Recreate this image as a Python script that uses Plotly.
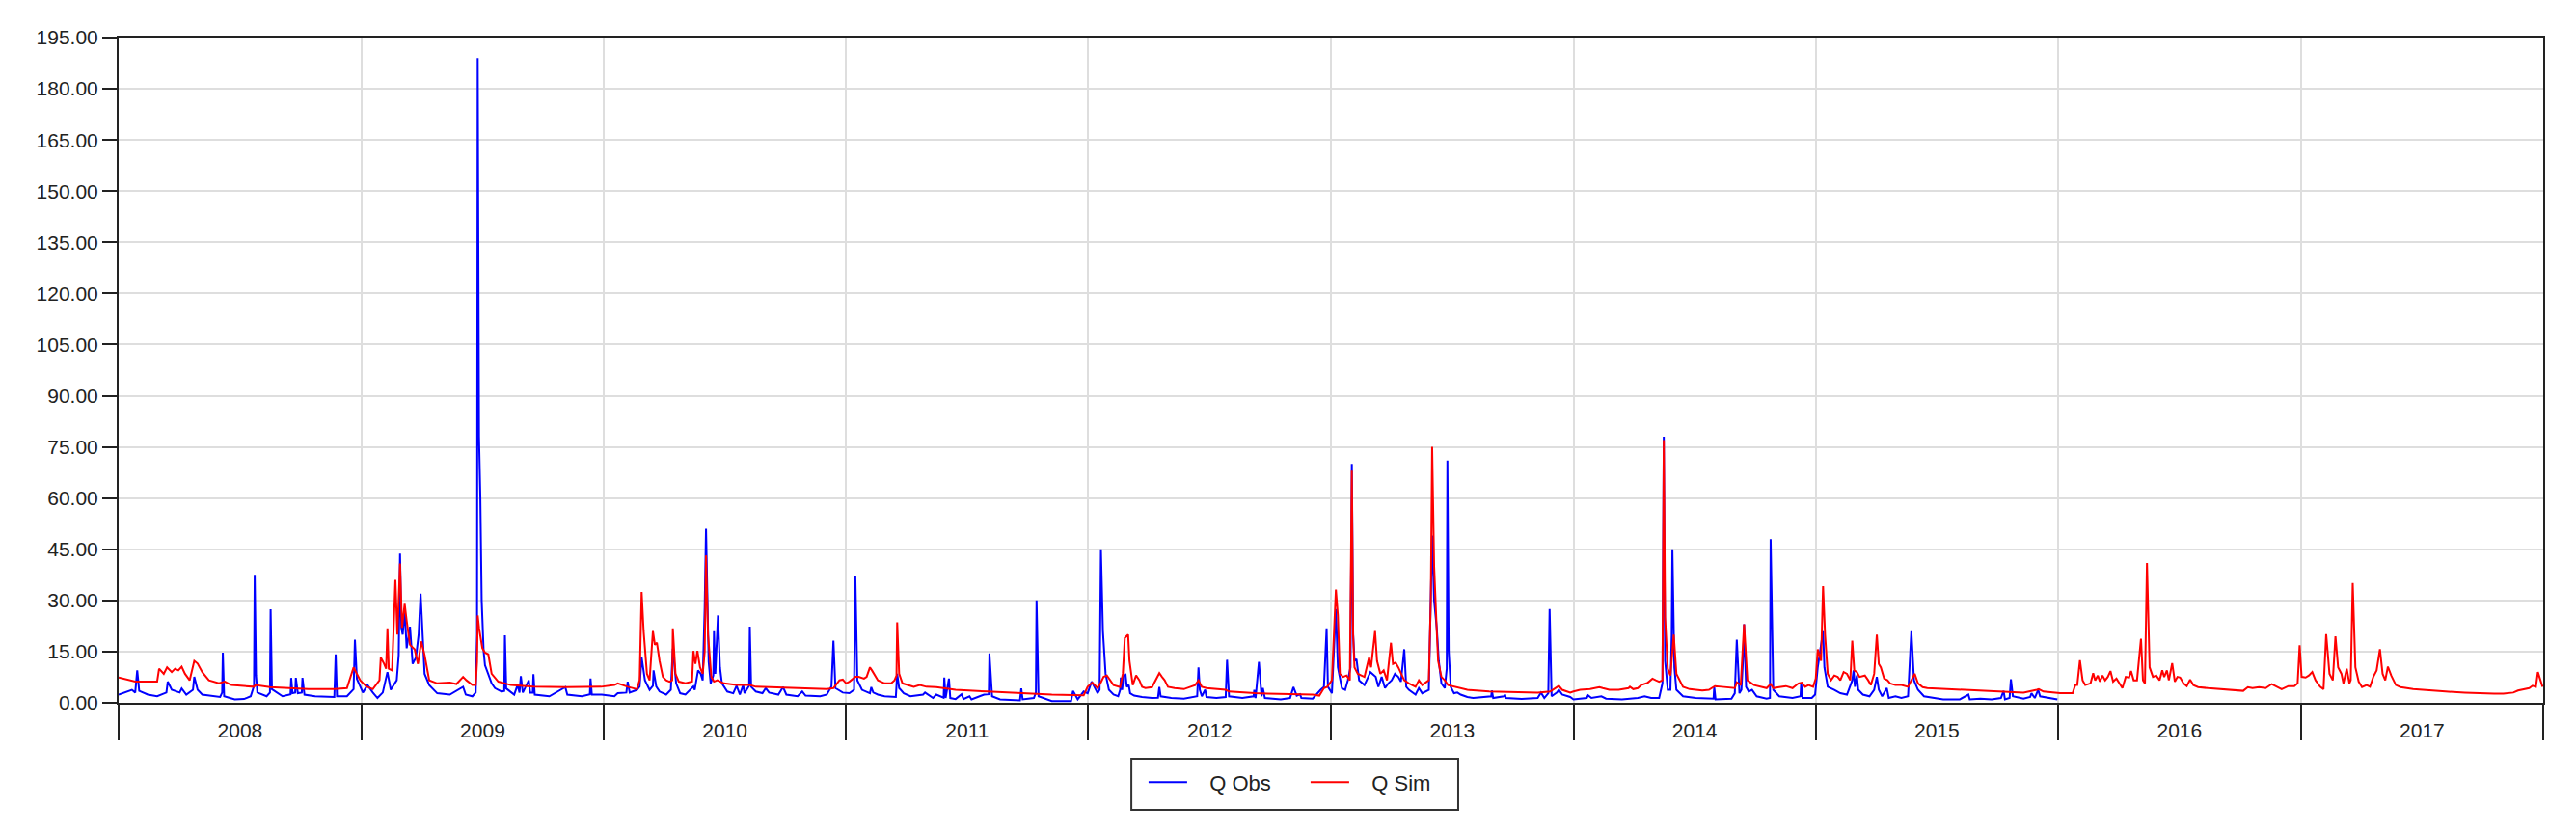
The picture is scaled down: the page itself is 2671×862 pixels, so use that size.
import pandas as pd
import plotly.graph_objects as go

START = "2008-01-01"
SERIES_NAMES = ["Q Obs", "Q Sim"]
YEAR_TICK_START = "2008-01-01"
X_RANGE = ["2008-01-01", "2018-01-01"]

# Q Obs: day offset from 2008-01-01, discharge
obs_day = [
    0, 10, 20, 25, 28, 31, 44, 58, 72, 74, 80, 92, 95, 102, 112, 114, 119, 126, 141, 153,
    156, 157, 159, 175, 189, 199, 204, 205, 207, 209, 223, 228, 229, 231, 247, 259, 260, 262,
    266, 267, 270, 276, 277, 280, 296, 325, 327, 329, 344, 354, 356, 359, 368, 375, 383, 390,
    398, 405, 410, 419, 422, 424, 426, 428, 431, 434, 439, 443, 448, 452, 455, 458, 461, 468,
    480, 499, 504, 519, 523, 533, 538, 540, 541, 542, 543, 545, 547, 550, 552, 562, 567, 577,
    581, 582, 584, 596, 601, 604, 606, 609, 618, 620, 624, 625, 627, 649, 673, 676, 698, 710,
    711, 713,
    728, 747, 752, 765, 767, 770, 781, 785, 788, 793, 800, 805, 806, 810, 815, 825, 832, 835,
    840, 846, 854, 866, 868, 873, 877, 880, 883, 885, 887, 889, 892, 896, 897, 899, 903, 906,
    909, 917, 926, 931, 936, 941, 943, 948, 950, 951, 953, 960, 970, 975, 980, 994, 1001, 1006,
    1023, 1030, 1035, 1057, 1067, 1074, 1077, 1080, 1091, 1101, 1108, 1110, 1113, 1120, 1132,
    1134, 1137, 1144, 1154, 1171, 1173, 1176, 1183, 1193, 1212, 1215, 1227, 1232, 1243, 1244,
    1246, 1251, 1253, 1261, 1270, 1273, 1282, 1285, 1304, 1311, 1312, 1316, 1328, 1358, 1360,
    1362, 1379, 1382, 1383, 1386, 1406, 1435, 1438, 1445, 1454,
    1460, 1466, 1470, 1475, 1478, 1480, 1483, 1487, 1492, 1499, 1506, 1509, 1510, 1512, 1514,
    1517, 1519, 1522, 1524, 1530, 1542, 1557, 1566, 1568, 1570, 1586, 1605, 1625, 1627, 1629,
    1632, 1637, 1639, 1654, 1668, 1670, 1673, 1693, 1710, 1711, 1713, 1718, 1722, 1724, 1727,
    1751, 1765, 1770, 1775, 1780, 1782, 1799, 1811, 1816, 1820, 1822, 1828, 1832, 1834, 1837,
    1843, 1848, 1852, 1856, 1858, 1860, 1862, 1865, 1869, 1877, 1882, 1886, 1889, 1894, 1898,
    1903, 1908, 1913, 1918, 1923, 1928, 1932, 1937, 1940, 1944, 1954, 1959, 1964, 1974, 1977,
    1979, 1982, 1986, 1989, 1993, 1998, 2001, 2002, 2004, 2007, 2012, 2017, 2022, 2032, 2041,
    2068, 2069, 2071, 2087, 2089, 2090, 2114, 2138, 2143, 2148, 2154, 2156, 2159, 2167, 2170,
    2175, 2187,
    2192, 2212, 2214, 2219, 2234, 2241, 2265, 2289, 2299, 2309, 2321, 2326, 2328, 2330, 2334,
    2338, 2340, 2341, 2344, 2347, 2357, 2376, 2401, 2403, 2404, 2406, 2430, 2435, 2438, 2442,
    2445, 2448, 2449, 2452, 2456, 2461, 2468, 2483, 2488, 2489, 2493, 2502, 2522, 2531, 2534,
    2535, 2537, 2551, 2556, 2560, 2564, 2568, 2570, 2575, 2585, 2594, 2604, 2612, 2614, 2616,
    2619, 2621, 2628, 2638, 2645, 2649, 2652, 2657, 2664, 2667, 2677, 2686, 2696, 2701, 2705,
    2711, 2720, 2730, 2749, 2774, 2787, 2789, 2805, 2822, 2836, 2840, 2842, 2849, 2851, 2854,
    2870, 2880, 2882, 2887, 2892, 2895, 2909, 2919, 2921,
]
obs_q = [
    2.4, 3, 3.8, 3.0, 9.5, 3.5, 2.4, 1.9, 3.0, 6.2, 3.8, 3.0, 4.2, 2.4, 3.8, 7.6, 3.8, 2.4, 1.9, 1.7,
    3, 14.7, 1.9, 1, 1.1, 1.9, 5, 37.5, 8, 3, 1.9, 3, 27.4, 4, 1.9, 2.5, 7.3, 2.8,
    3, 7.3, 2.8, 3, 7.3, 2.4, 1.9, 1.7, 14.2, 1.9, 1.9, 4, 18.5, 7, 3, 5.2, 3, 1.4,
    3, 9, 3.8, 6.6, 14, 43.7, 22, 20, 27, 16, 22.3, 11.4, 13.3, 20, 32, 20, 8.5, 5.2,
    2.8, 2.4, 3, 4.7, 2.4, 1.9, 3, 20, 189, 120, 78, 60, 30, 15, 11, 5.7, 4.3, 3.3,
    3.5, 19.8, 4.2, 2.4, 5.2, 3, 7.8, 3, 6.6, 3, 3, 8.4, 2.4, 1.9, 4.6, 2.4, 1.9, 2.5,
    7.1, 2.4,
    2.4, 1.9, 2.8, 3, 6.2, 3, 3.8, 4.8, 13.3, 6.6, 3.8, 5, 9.5, 4.8, 3.3, 2.4, 3.8, 15.9,
    5.7, 2.8, 2.4, 4.8, 3.8, 9.5, 8.5, 6.6, 28, 51, 30, 12, 5.7, 8, 21, 8.5, 25.6, 10.4,
    5.7, 3.3, 2.8, 5, 2.4, 5.2, 2.8, 4.7, 5, 22.3, 4.7, 3.3, 2.8, 4.3, 3, 2.4, 4.6, 2.4,
    1.9, 3.3, 2.1, 1.9, 2.4, 4.8, 18.2, 4.3, 3, 2.8, 3.8, 37, 6.6, 3.8, 2.8,
    4.6, 3, 2.4, 1.9, 1.7, 8.5, 4.3, 2.8, 1.9, 2.4, 3, 1.4, 2.4, 1.5, 7.4,
    1.4, 7.1, 1.4, 1.1, 2.5, 1.1, 1.9, 1, 2.4, 2.5, 14.5, 1.9, 1, 0.7, 4.2,
    1, 1.4, 3, 30, 1.9, 0.5, 0.5, 3.5, 1, 3.3,
    2.8, 6.2, 4.7, 2.8, 3.8, 45, 21, 8.5, 3.8, 2.4, 1.9, 3.8, 7.4, 3.8, 7.8,
    8.5, 4.7, 5.2, 2.8, 2.1, 1.7, 1.4, 1.5, 4.6, 1.9, 1.4, 1.2, 1.9, 10.4, 3.8,
    1.9, 3.8, 1.7, 1.4, 1.7, 12.6, 1.9, 1.4, 1.9, 3.8, 1.4, 12, 1.9, 4.3, 1.4,
    1, 1.4, 4.6, 2.1, 2.5, 1.4, 1.2, 3.8, 4.7, 21.8, 4.7, 2.8, 17, 27.5, 10.4,
    4.3, 3.8, 6.6, 10.4, 70, 20, 12.3, 12.8, 6.6, 5.2, 7.6, 9, 8.5, 7.6, 4.7,
    7.6, 4.3, 5.7, 6.6, 8.5, 7.6, 6.2, 15.7, 4.7, 3.8, 2.4, 4.3, 2.8, 3.8, 28,
    49, 30, 21.8, 12.3, 5.7, 4.3, 10, 71, 15, 4.7, 2.8, 3, 2.4, 1.7, 1.4,
    1.9, 3.6, 1.4, 1.9, 2.4, 1.4, 1.1, 1.4, 3, 1.4, 2.8, 27.5, 1.9, 3, 3.8,
    2.4, 1.7,
    1, 1.4, 2.2, 1.4, 1.9, 1.2, 1, 1.4, 1.9, 1.4, 1.4, 5.7, 78, 12.3, 3.8,
    3.8, 20, 45, 10.4, 3.8, 1.9, 1.4, 1.2, 1.2, 4.6, 1, 1.2, 2.8, 18.5, 2.8,
    3.8, 15, 23, 4.7, 3.3, 3.8, 1.9, 1.2, 1.4, 48, 3.8, 1.9, 1.4, 1.9, 1.9,
    5.7, 1.4, 1.4, 2.4, 10.4, 15.2, 21, 10.4, 4.7, 3.8, 2.8, 2.4, 6.6, 9.5, 4.7,
    8, 3.8, 2.4, 1.9, 3.8, 7.6, 3.8, 1.9, 4.3, 1.4, 1.9, 1.4, 1.9, 21, 6.6,
    3.8, 1.9, 1.6, 1, 1, 2.4, 1, 1.2, 1, 1.4, 3.5, 1, 1.4, 6.9, 1.9,
    1.2, 1.7, 2.8, 1.4, 3.8, 1.9, 1.4, 1, 1,
]

# Q Sim: day offset from 2008-01-01, discharge
sim_day = [
    0, 25, 58, 61, 68, 73, 80, 85, 90, 95, 100, 107, 114, 119, 126, 136, 151, 160, 170, 189,
    204, 206, 228, 257, 286, 325, 344, 354, 364, 373, 383, 393, 395, 400, 403, 405, 407, 412,
    417, 420, 424, 427, 431, 434, 439, 446, 451, 456, 461, 468, 480, 499, 509, 519, 524, 533,
    538, 540, 541, 543, 548, 552, 557, 562, 572, 591, 625, 674, 727,
    747, 752, 767, 781, 785, 788, 791, 796, 800, 805, 808, 811, 815, 820, 825, 830, 834, 835,
    839, 844, 854, 864, 866, 869, 872, 876, 880, 883, 885, 888, 893, 897, 902, 912, 931, 951,
    960, 980, 999, 1019, 1067, 1077, 1086, 1091, 1096, 1101, 1110, 1115, 1123, 1127, 1132,
    1135, 1140, 1144, 1154, 1164, 1169, 1172, 1173, 1176, 1181, 1188, 1198, 1207, 1217, 1232,
    1241, 1251, 1261, 1309, 1358, 1406, 1454,
    1460, 1467, 1470, 1475, 1480, 1484, 1489, 1499, 1509, 1513, 1516, 1521, 1523, 1528, 1533,
    1538, 1542, 1547, 1557, 1568, 1572, 1576, 1581, 1591, 1605, 1615, 1622, 1627, 1632, 1639,
    1654, 1668, 1673, 1693, 1712, 1731, 1751, 1799, 1809, 1816, 1821, 1828, 1831, 1834, 1837,
    1840, 1845, 1850, 1855, 1858, 1860, 1862, 1867, 1877, 1884, 1887, 1893, 1896, 1901, 1906,
    1911, 1917, 1920, 1924, 1928, 1932, 1937, 1944, 1954, 1959, 1964, 1974, 1977, 1979, 1982,
    1986, 1988, 1993, 1998, 2003, 2012, 2022, 2032, 2065, 2114, 2138, 2157, 2170, 2175, 2187,
    2192, 2202, 2217, 2231, 2236, 2246, 2260, 2275, 2277, 2282, 2289, 2294, 2304, 2311, 2316,
    2321, 2326, 2328, 2330, 2334, 2338, 2341, 2343, 2347, 2357, 2367, 2376, 2386, 2396, 2403,
    2405, 2415, 2425, 2435, 2438, 2444, 2449, 2454, 2464, 2473, 2483, 2489, 2493, 2502, 2512,
    2522, 2531, 2536, 2541, 2546, 2553, 2557, 2560, 2565, 2568, 2571, 2575, 2580, 2585, 2590,
    2594, 2599, 2604, 2609, 2612, 2615, 2619, 2623, 2631, 2636, 2640, 2645, 2649, 2652, 2655,
    2660, 2665, 2669, 2677, 2686, 2696, 2701, 2706, 2711, 2718, 2725, 2774, 2822, 2870, 2890,
    2893, 2900, 2919,
    2925, 2944, 2948, 2951, 2955, 2959, 2963, 2971, 2975, 2978, 2982, 2985, 2989, 2993, 2997,
    3001, 3005, 3010, 3014, 3019, 3024, 3029, 3032, 3036, 3041, 3047, 3050, 3053, 3056, 3060,
    3065, 3070, 3075, 3079, 3082, 3086, 3089, 3094, 3098, 3102, 3106, 3111, 3116, 3121, 3126,
    3133, 3148, 3167, 3186, 3201, 3208, 3215, 3225, 3235, 3244, 3252, 3259, 3269, 3278, 3283,
    3286, 3289, 3295, 3300, 3305, 3310, 3317, 3322, 3326, 3331, 3336, 3340, 3344, 3349, 3352,
    3357, 3361, 3363, 3366, 3370, 3375, 3380, 3387, 3392, 3397, 3402, 3407, 3411, 3415, 3419,
    3424, 3431, 3438, 3457, 3482, 3506, 3535, 3554, 3579, 3593, 3608, 3615, 3622, 3632, 3637,
    3642, 3645, 3649, 3652,
]
sim_q = [
    7.4, 6.2, 6.2, 10, 8.5, 10.4, 9, 10, 9.5, 10.6, 8.5, 6.6, 12.3, 11.5, 9, 6.6, 5.7, 6.2, 5.2, 4.9,
    4.7, 5.2, 4.6, 4.3, 4.0, 4.0, 4.3, 10.4, 6.6, 4.8, 4.0, 6.6, 13.3, 11.4, 10, 21.8, 10, 9.5,
    36, 20, 40.8, 22, 29, 24, 17, 15.7, 11.4, 18, 14, 6.6, 5.7, 5.9, 5.5, 7.6, 6.6, 5.2,
    5.2, 12, 25.6, 22, 16, 14.7, 14.2, 8.5, 6.2, 5.2, 4.7, 4.6, 4.7,
    5.2, 5.7, 4.7, 4, 6.6, 32.5, 21, 8.5, 6.6, 21, 17, 17.6, 12.3, 7.6, 6.6, 6.2, 6.6, 21.8,
    8.5, 6.2, 5.7, 6.2, 15.2, 11.4, 15.2, 10.4, 8.5, 15, 43.2, 20, 7.6, 6.2, 6.6, 5.7, 5.2, 5.2,
    4.7, 4.6, 4.3, 4.2, 4, 4.3, 6.6, 6.8, 5.7, 6.2, 7.6, 7.6, 7.1, 7.6, 10.4,
    9.5, 8, 6.6, 5.7, 5.7, 6.6, 8, 23.6, 8.5, 5.7, 5.2, 4.7, 5.2, 4.7, 4.6,
    4.3, 4, 3.8, 3.3, 2.8, 2.4, 2.2,
    4.7, 5.9, 5.2, 4.3, 6, 7.6, 8, 5.2, 4.6, 8.5, 19, 20, 12.3, 5.2, 8,
    6.6, 4.7, 4.3, 4.6, 8.7, 7.6, 6.6, 4.7, 4.3, 4, 4.7, 5.2, 6.6, 4.7, 4.3,
    4, 3.8, 3.3, 3, 2.8, 2.7, 2.6, 2.4, 2.1, 4.3, 4.7, 6.6, 20, 33.2, 25.6,
    8.5, 7.6, 8, 6.6, 68, 20, 10.4, 8.5, 7.6, 13.3, 10.4, 21, 12.3, 8.5, 9.5,
    6.6, 17.6, 11.4, 11.8, 10.4, 8.5, 6.6, 5.7, 4.7, 6.6, 5.2, 6.6, 30, 75, 40,
    21, 12.3, 7.6, 6.6, 5.2, 4.7, 4.3, 3.8, 3.3, 3, 3, 3.3, 5, 3.8, 3,
    3.3, 3.8, 4, 4.6, 4.3, 3.8, 3.8, 4.3, 4.7, 4, 4.3, 5.2, 5.9, 7.1, 6.6,
    6.2, 6.6, 77, 25, 10, 8, 15, 20, 8.5, 4.7, 4, 3.8, 3.6, 3.8, 4.7,
    4.9, 4.7, 4.6, 4.3, 6, 5.2, 23, 6.6, 5.2, 4.7, 4.3, 5.5, 4.3, 4.6, 4.9,
    4.3, 5.7, 5.9, 4.7, 5.2, 4.7, 7.1, 15.7, 12.3, 34.2, 20, 8.5, 6.6, 8, 7.6,
    6.6, 9, 8.5, 6.6, 18.2, 9.5, 9, 7.6, 8, 6.6, 5.2, 8.5, 20, 11.4, 10.4,
    7.1, 6.6, 5.7, 5.2, 5.2, 4.7, 6.6, 8.5, 5.7, 4.6, 4.3, 3.8, 3.3, 3, 3.8,
    4, 3.3, 2.8,
    2.8, 2.8, 5.2, 5.2, 12.5, 6.6, 5.2, 5.7, 8.7, 6.6, 8, 6.2, 8, 6.6, 7.6,
    9.3, 6.2, 7.1, 5.7, 4.3, 7.6, 7.4, 9.3, 6.6, 6.6, 18.8, 6.6, 5.7, 41, 10.4,
    7.6, 8, 6.6, 9.5, 7.6, 9.5, 6.6, 11.6, 6.2, 7.6, 7.4, 5.7, 4.9, 6.8, 5.2,
    4.6, 4.3, 4, 3.8, 3.5, 4.6, 4.3, 4.6, 4.3, 5.5, 4.6, 4, 4.9, 4.9, 5.7,
    16.9, 7.6, 7.4, 8, 9, 6.6, 4.7, 4, 20.1, 8.5, 6.6, 19.5, 10.4, 8.5, 5.7,
    10, 5.7, 6.6, 35.1, 10.4, 6.2, 4.6, 5.2, 4.7, 7.6, 9.5, 15.7, 8.5, 6.6, 10.6,
    8, 5.2, 4.6, 4, 3.6, 3.3, 3, 2.8, 2.7, 2.7, 3, 3.6, 3.8, 4.3, 5,
    4.7, 9, 6.2, 4.7,
]

y_max = 195
y_step = 15

base = pd.Timestamp(START)
obs_x = base + pd.to_timedelta(obs_day, unit="D")
sim_x = base + pd.to_timedelta(sim_day, unit="D")

# legend text is spaced from its line sample by a few non-breaking spaces
pad = "\u00a0\u00a0\u00a0"

fig = go.Figure()
fig.add_trace(go.Scatter(x=obs_x, y=obs_q, mode="lines", name=pad + SERIES_NAMES[0],
                         line=dict(color="#0000FF", width=2)))
fig.add_trace(go.Scatter(x=sim_x, y=sim_q, mode="lines", name=pad + SERIES_NAMES[1],
                         line=dict(color="#FF0000", width=2)))

font_family = "Liberation Sans, Arial, sans-serif"
# the page body adds an 8px offset; size the figure so the plot area lands where it should
fig.update_layout(
    width=2663, height=854,
    margin=dict(l=115, r=34, t=31, b=133, autoexpand=False),
    paper_bgcolor="white", plot_bgcolor="white",
    font=dict(family=font_family, size=20, color="#222222"),
    showlegend=True,
    legend=dict(orientation="h", x=0.4228, xanchor="left", y=-0.089, yanchor="top",
                borderwidth=0, font=dict(size=22),
                itemwidth=40, entrywidth=113, bgcolor="rgba(0,0,0,0)"),
    shapes=[dict(type="rect", xref="paper", yref="paper",
                 x0=0.4177, x1=0.5525, y0=-0.1609, y1=-0.0841,
                 line=dict(color="#333333", width=2), fillcolor="rgba(0,0,0,0)",
                 layer="above")],
)
fig.update_xaxes(
    type="date", range=X_RANGE, tick0=YEAR_TICK_START, dtick="M12", tickformat="%Y",
    ticklabelmode="period", ticks="outside", ticklen=37, tickwidth=2, tickcolor="#222222",
    ticklabelstandoff=-28, tickfont=dict(size=21),
    showgrid=True, gridcolor="#dedede", gridwidth=2,
    showline=True, linecolor="#222222", linewidth=2, mirror=True,
    zeroline=False, automargin=False,
)
fig.update_yaxes(
    range=[0, y_max], dtick=y_step, tick0=0, tickformat=".2f", tickfont=dict(size=21),
    ticks="outside", ticklen=15, tickwidth=2, tickcolor="#222222",
    showgrid=True, gridcolor="#dedede", gridwidth=2,
    showline=True, linecolor="#222222", linewidth=2, mirror=True,
    zeroline=False, automargin=False,
)

fig.write_html("out.html")
